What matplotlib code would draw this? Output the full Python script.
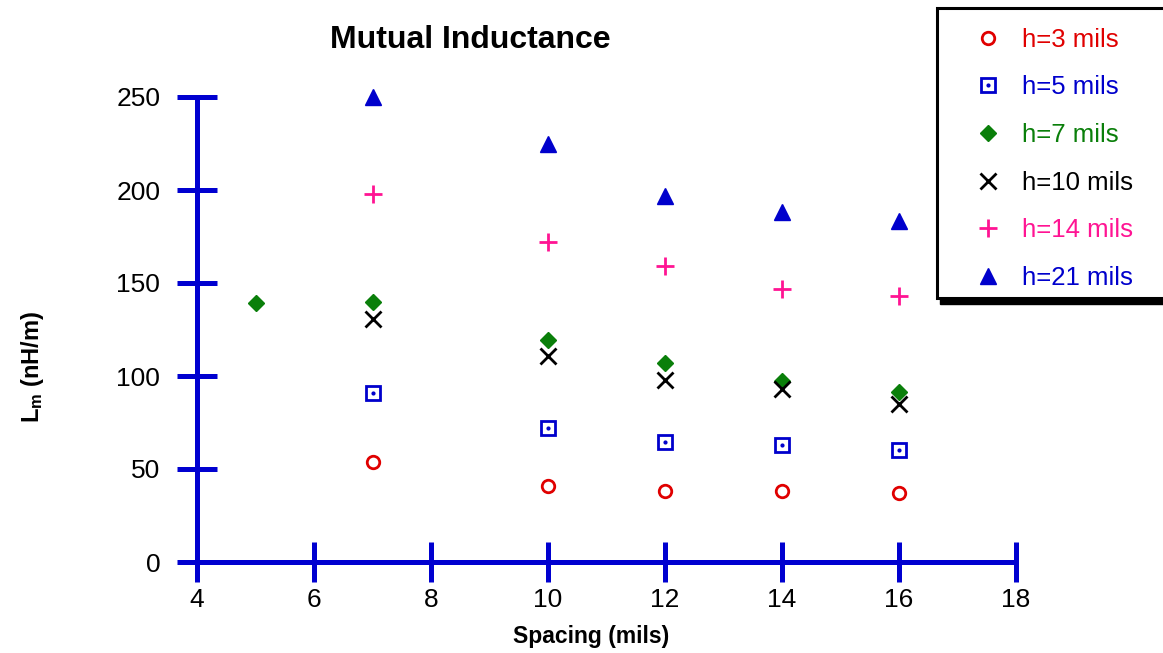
import matplotlib.pyplot as plt
from matplotlib.patches import Rectangle

plt.rcParams['font.family'] = ['Liberation Sans', 'DejaVu Sans']
plt.rcParams['mathtext.fontset'] = 'custom'
plt.rcParams['mathtext.rm'] = 'Liberation Sans'
plt.rcParams['mathtext.bf'] = 'Liberation Sans:bold'

# data (spacing in mils, Lm in nH/m)
spacing = [7, 10, 12, 14, 16]
lm_h3 = [54, 41, 38, 38, 37]
lm_h5 = [91, 72, 64.5, 63, 60]
spacing_h7 = [5, 7, 10, 12, 14, 16]
lm_h7 = [139, 140, 119.5, 107, 97.5, 91.5]
lm_h10 = [130.5, 111, 98, 93, 85]
lm_h14 = [198, 172, 159, 147, 143]
lm_h21 = [250, 225, 197, 188, 183.5]

x_ticks = [4, 6, 8, 10, 12, 14, 16, 18]
y_ticks = [0, 50, 100, 150, 200, 250]
labels = ['h=3 mils', 'h=5 mils', 'h=7 mils', 'h=10 mils', 'h=14 mils', 'h=21 mils']

red = '#e00000'
blue = '#0000cc'
green = '#0a7f0a'
pink = '#ff1493'
axis_blue = '#0000d0'

W, H = 1163, 653
fig = plt.figure(figsize=(W / 100, H / 100), dpi=100)
ax = fig.add_axes([197 / W, 1 - 562 / H, (1016 - 197) / W, (562 - 97) / H])

kw = dict(linestyle='none', clip_on=False)
h3, = ax.plot(spacing, lm_h3, marker='o', ms=9, mfc='none', mec=red, mew=2, **kw)
h5a, = ax.plot(spacing, lm_h5, marker='s', ms=10, mfc='none', mec=blue, mew=2, **kw)
h5b, = ax.plot(spacing, lm_h5, marker='o', ms=2, mfc=blue, mec=blue, **kw)
h7, = ax.plot(spacing_h7, lm_h7, marker='D', ms=8, mfc=green, mec=green, **kw)
h10, = ax.plot(spacing, lm_h10, marker='x', ms=11, mec='black', mew=2, **kw)
h14, = ax.plot(spacing, lm_h14, marker='+', ms=13, mec=pink, mew=2, **kw)
h21, = ax.plot(spacing, lm_h21, marker='^', ms=12, mfc=blue, mec=blue, **kw)

ax.set_xlim(4, 18)
ax.set_ylim(0, 250)
ax.set_xticks(x_ticks)
ax.set_yticks(y_ticks)
for s in ['top', 'right']:
    ax.spines[s].set_visible(False)
for s in ['left', 'bottom']:
    ax.spines[s].set_color(axis_blue)
    ax.spines[s].set_linewidth(3.6)
ax.tick_params(direction='inout', length=29, width=3.6, color=axis_blue,
               labelsize=19, labelcolor='black')
ax.tick_params(axis='y', pad=12)
ax.tick_params(axis='x', pad=4)

fig.text(470 / W, 1 - 40 / H, 'Mutual Inductance', ha='center', va='center',
         fontsize=23, fontweight='bold')
fig.text(591 / W, 1 - 636 / H, 'Spacing (mils)', ha='center', va='center',
         fontsize=16.5, fontweight='bold')
fig.text(33 / W, 1 - 367 / H, r'$\mathbf{L_m}$ (nH/m)', ha='center', va='center',
         rotation=90, fontsize=17, fontweight='bold')

# legend box with shadow
lx, ly, lw_, lh = 937, 8, 240, 290
fig.patches.append(Rectangle(((lx + 3) / W, 1 - (ly + lh + 6) / H), lw_ / W, lh / H,
                             transform=fig.transFigure, facecolor='black',
                             edgecolor='black', zorder=1))
fig.patches.append(Rectangle((lx / W, 1 - (ly + lh) / H), lw_ / W, lh / H,
                             transform=fig.transFigure, facecolor='white',
                             edgecolor='black', linewidth=2.2, zorder=2))

colors = [red, blue, green, 'black', pink, blue]
handles = [h3, (h5a, h5b), h7, h10, h14, h21]
leg = fig.legend(handles, labels, loc='upper left',
                 bbox_to_anchor=(956 / W, 1 - 15 / H), frameon=False,
                 fontsize=18.5, handlelength=1.5, handletextpad=0.57,
                 labelspacing=0.92, numpoints=1, borderpad=0)
leg.set_zorder(3)
for t, c in zip(leg.get_texts(), colors):
    t.set_color(c)

fig.savefig('out.png', dpi=100)
